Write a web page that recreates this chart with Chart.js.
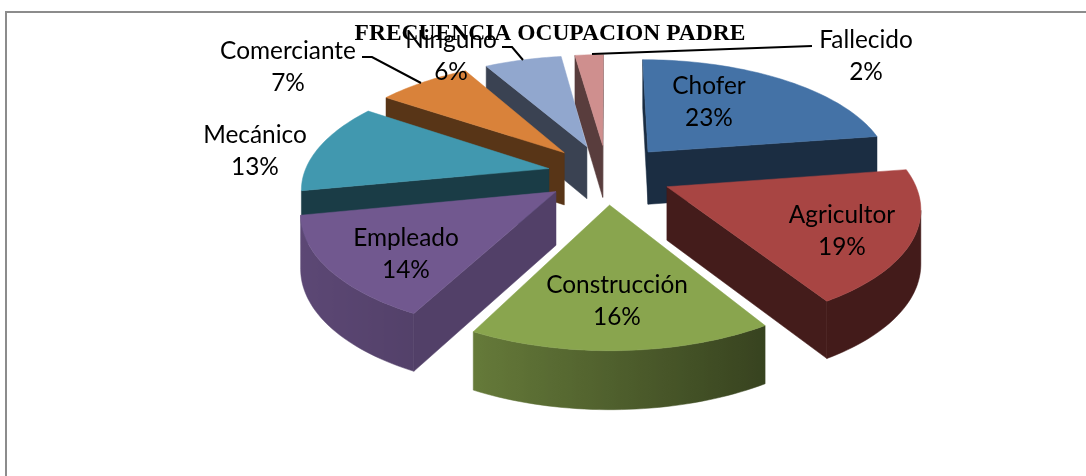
<!DOCTYPE html>
<html><head><meta charset="utf-8">
<style>html,body{margin:0;padding:0;background:#fff}#w{width:1086px;height:476px;position:relative}</style>
<script src="https://cdn.jsdelivr.net/npm/chart.js@4"></script></head>
<body><div id="w"><canvas id="c" width="1086" height="476"></canvas></div>
<script>
const categories=['Chofer','Agricultor','Construcción','Empleado','Mecánico','Comerciante','Ninguno','Fallecido'];
const shares=[22.6,18.6,16.4,14.3,12.6,7.3,6.0,2.2];
const percentLabels=[23,19,16,14,13,7,6,2];
const topColors=['#4472a6','#a84543','#89a54e','#71588f','#4198af','#d9823a','#91a7ce','#cf8f8e'];
const explode=[50,50,50,48,46,50,50,50];
const paintOrder=[7,6,5,0,4,1,3,2];
const wallTone=[.40,.41,.40,.73,.40,.41,.40,.43];
const labelAt=[[709,86],[842,215],[617,285],[406,238],[255,135],[288,51],[451,40],[866,40]];
const leaders=[[[362,57],[372,57],[421,83]],[[502,47],[512,47],[523,60]],[[592,54],[812,46]]];
const LABEL_FONT='24.4px Lato';
const view={cx:607,cy:174,f:245,fg:112.7,k:.153,h:53};
function project(u,v,z){const s=1/(1-view.k*v);return [view.cx+view.f*u*s,view.cy+view.fg*v*s+z*view.h*Math.sqrt(s)];}
function shade(hex,t){const n=parseInt(hex.slice(1),16);return `rgb(${((n>>16)&255)*t|0},${((n>>8)&255)*t|0},${(n&255)*t|0})`;}
function outerTone(deg){if(deg<=147)return .40;if(deg<=207)return .40+(deg-147)/60*.34;if(deg<=260)return .74+(deg-207)/53*.08;return .42;}
function poly(ctx,pts,color){ctx.beginPath();pts.forEach((p,i)=>i?ctx.lineTo(p[0],p[1]):ctx.moveTo(p[0],p[1]));ctx.closePath();ctx.fillStyle=color;ctx.fill();ctx.lineWidth=.5;ctx.strokeStyle=color;ctx.stroke();}
function faces(p0,p1,inner){const ex=p1[0]-p0[0],ey=p1[1]-p0[1];return ex*(inner[1]-p0[1])-ey*(inner[0]-p0[0])<0 ? ex>0 : ex<0;}
const pie3d={id:'pie3d',
 beforeDraw(chart){const c=chart.ctx;c.save();c.fillStyle='#fff';c.fillRect(0,0,1086,476);c.strokeStyle='#8c8c8c';c.lineWidth=2;c.beginPath();c.moveTo(6,476);c.lineTo(6,12);c.lineTo(1086,12);c.stroke();c.restore();},
 beforeDatasetsDraw(chart){
  const ctx=chart.ctx,arcs=chart.getDatasetMeta(0).data;ctx.save();
  paintOrder.forEach(i=>{
   const a=arcs[i],R=a.outerRadius,off=a.options.offset/R,sa=a.startAngle,ea=a.endAngle,mid=(sa+ea)/2;
   const ox=off*Math.cos(mid),oy=off*Math.sin(mid);
   const pt=(ang,r,z)=>project(ox+r*Math.cos(ang),oy+r*Math.sin(ang),z);
   const n=Math.max(6,Math.ceil((ea-sa)*40));const col=topColors[i];
   const inner=pt(mid,.5,0);
   const upper=[],lower=[];const tones=[];
   for(let j=0;j<=n;j++){const ang=sa+(ea-sa)*j/n;
     const nxt=sa+(ea-sa)*Math.min(j+1,n)/n,prv=sa+(ea-sa)*Math.max(j-1,0)/n;
     if(faces(pt(prv,1,0),pt(nxt,1,0),inner)){upper.push(pt(ang,1,0));lower.unshift(pt(ang,1,1));tones.push(outerTone((ang+Math.PI/2)*180/Math.PI));}}
   if(upper.length>1){
     const x0=upper[0][0],x1=upper[upper.length-1][0];
     const g=ctx.createLinearGradient(x0,0,x1,0);
     tones.forEach((t,k)=>g.addColorStop(k/(tones.length-1),shade(col,t)));
     poly(ctx,upper.concat(lower),g);
   }
   [sa,ea].forEach(ang=>{const p0=pt(0,0,0),p1=pt(ang,1,0);if(faces(p0,p1,inner))poly(ctx,[p0,p1,pt(ang,1,1),pt(0,0,1)],shade(col,wallTone[i]));});
   const top=[pt(0,0,0)];for(let j=0;j<=n;j++)top.push(pt(sa+(ea-sa)*j/n,1,0));
   poly(ctx,top,col);
  });
  ctx.restore();return false;
 },
 afterDraw(chart){const ctx=chart.ctx;ctx.save();
  ctx.strokeStyle='#000';ctx.lineWidth=2;
  leaders.forEach(l=>{ctx.beginPath();l.forEach((p,i)=>i?ctx.lineTo(p[0],p[1]):ctx.moveTo(p[0],p[1]));ctx.stroke();});
  ctx.fillStyle='#000';ctx.font=LABEL_FONT;ctx.textAlign='center';ctx.textBaseline='middle';
  categories.forEach((t,i)=>{ctx.fillText(t,labelAt[i][0],labelAt[i][1]);ctx.fillText(percentLabels[i]+'%',labelAt[i][0],labelAt[i][1]+32);});
  ctx.restore();}
};
new Chart(document.getElementById('c'),{type:'pie',plugins:[pie3d],
 data:{labels:categories,datasets:[{data:shares,backgroundColor:topColors,offset:explode,borderWidth:0}]},
 options:{responsive:false,animation:false,layout:{padding:{left:14,top:0}},
  plugins:{legend:{display:false},tooltip:{enabled:false},
   title:{display:true,text:'FRECUENCIA OCUPACION PADRE',color:'#000',font:{family:'"Liberation Serif"',size:23.5,weight:'bold'},padding:{top:20,bottom:0}}}}
});
</script></body></html>
